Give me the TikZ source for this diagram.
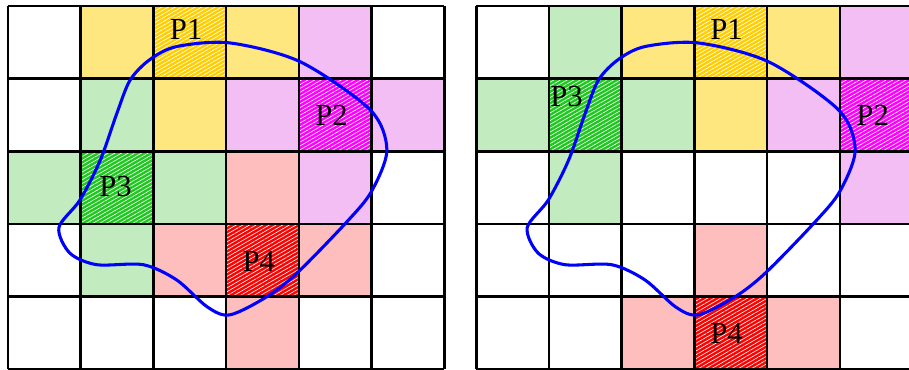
\documentclass[tikz,border=0pt]{standalone}
\usepackage{fontspec}
\setmainfont{Liberation Serif}
\usetikzlibrary{patterns.meta}
\definecolor{softyellow}{RGB}{255,231,128}
\definecolor{gold}{RGB}{255,206,0}
\definecolor{softpink}{RGB}{243,190,243}
\definecolor{hotpink}{RGB}{255,0,255}
\definecolor{softgreen}{RGB}{194,235,192}
\definecolor{leafgreen}{RGB}{30,200,30}
\definecolor{softred}{RGB}{255,190,190}
\definecolor{hotred}{RGB}{255,0,0}
% closed outline shared by both panels
\newcommand\blobpath{plot[smooth cycle] coordinates {(3.05,4.49) (4.02,4.23) (4.98,3.57) (5.21,3.02) (5.0,2.45) (4.66,2.03) (3.98,1.33) (3.56,1.0) (3.05,0.75) (2.74,0.86) (2.32,1.23) (1.86,1.44) (1.22,1.44) (0.85,1.6) (0.70,1.95) (0.99,2.33) (1.27,2.88) (1.5,3.53) (1.68,3.98) (1.95,4.26) (2.32,4.44)}}

\begin{document}
\begin{tikzpicture}[
    gridline/.style={draw=black, line width=1pt},
    hatch/.style={pattern={Lines[angle=30,distance=1.3pt,line width=0.25pt]}, pattern color=white, fill opacity=0.35},
    tag/.style={font=\fontsize{12}{14}\selectfont, inner sep=0pt},
    contour/.style={draw=blue, line width=1.2pt}
  ]
  \useasboundingbox (-0.11,0.005) rectangle (12.39,5.08);
  % left panel
  \begin{scope}
    \foreach \c/\r/\col in {1/0/softyellow, 3/0/softyellow, 2/1/softyellow, 2/0/gold,
        4/0/softpink, 3/1/softpink, 5/1/softpink, 4/2/softpink, 4/1/hotpink,
        1/1/softgreen, 0/2/softgreen, 2/2/softgreen, 1/3/softgreen, 1/2/leafgreen,
        3/2/softred, 2/3/softred, 4/3/softred, 3/4/softred, 3/3/hotred}
      \fill[\col] (\c,4-\r) rectangle ++(1,1);
    \foreach \c/\r in {2/0, 4/1, 1/2, 3/3}
      \fill[hatch] (\c,4-\r) rectangle ++(1,1);
    \draw[gridline] (0,0) grid (6,5);
    \node[tag] (p1a) at (2.45,4.67) {P1};
    \node[tag] (p2a) at (4.45,3.5) {P2};
    \node[tag] (p3a) at (1.48,2.51) {P3};
    \node[tag] (p4a) at (3.45,1.49) {P4};
    \draw[contour] \blobpath;
  \end{scope}
  % right panel
  \begin{scope}[xshift=6.44cm]
    \foreach \c/\r/\col in {1/0/softgreen, 0/1/softgreen, 2/1/softgreen, 1/2/softgreen, 1/1/leafgreen,
        2/0/softyellow, 4/0/softyellow, 3/1/softyellow, 3/0/gold,
        5/0/softpink, 4/1/softpink, 5/2/softpink, 5/1/hotpink,
        3/3/softred, 2/4/softred, 4/4/softred, 3/4/hotred}
      \fill[\col] (\c,4-\r) rectangle ++(1,1);
    \foreach \c/\r in {3/0, 5/1, 1/1, 3/4}
      \fill[hatch] (\c,4-\r) rectangle ++(1,1);
    \draw[gridline] (0,0) grid (6,5);
    \node[tag] (p1b) at (3.44,4.67) {P1};
    \node[tag] (p3b) at (1.24,3.75) {P3};
    \node[tag] (p2b) at (5.45,3.5) {P2};
    \node[tag] (p4b) at (3.44,0.5) {P4};
    \draw[contour] \blobpath;
  \end{scope}
\end{tikzpicture}
\end{document}
